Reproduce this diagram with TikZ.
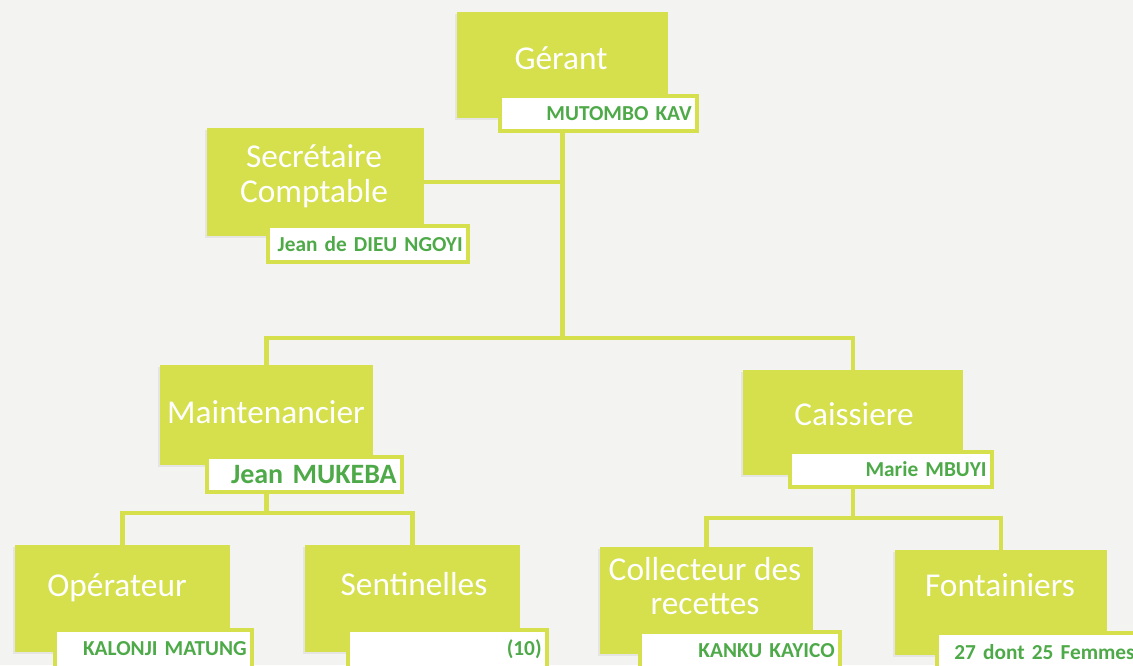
\documentclass[tikz,border=0pt]{standalone}
\usepackage{fontspec}
\setmainfont{Carlito}
\usetikzlibrary{backgrounds,shadows}

\definecolor{leaf}{RGB}{213,224,76}
\definecolor{ink}{RGB}{78,170,72}
\definecolor{paper}{RGB}{243,243,241}

\tikzset{
	role/.style={fill=leaf, inner sep=0pt, drop shadow={shadow xshift=-1.5pt, shadow yshift=-1.5pt, fill=gray, opacity=0.12}},
	roletext/.style={text=white, font=\fontsize{25}{26}\selectfont, align=center, inner sep=0pt},
	staff/.style={draw=leaf, line width=2.6pt, fill=white, inner xsep=4pt, inner ysep=0pt, text width=#1, align=right, text=ink, font=\bfseries\fontsize{16}{18}\selectfont},
	link/.style={draw=leaf, line width=3.5pt}
}

\begin{document}
\begin{tikzpicture}[x=0.75pt,y=-0.75pt]
	% Page
	\useasboundingbox (0,0) rectangle (1133,665);

	% Gerant
	\node[role, minimum width=158pt, minimum height=79.5pt] (ger) at (562.5,65) {};
	\node[roletext] (gerT) at (561,58) {Gérant};
	\node[staff=139.75pt, minimum height=26.25pt] (gerN) at (598.5,113.5) {MUTOMBO KAV};

	% Secretaire
	\node[role, minimum width=162.75pt, minimum height=81pt] (sec) at (315.5,182) {};
	\node[roletext] (secT) at (314,176) {Secrétaire\\Comptable};
	\node[staff=142pt, minimum height=27pt] (secN) at (368,244) {Jean de DIEU NGOYI};

	% Maintenancier
	\node[role, minimum width=159.75pt, minimum height=75pt] (mai) at (266.5,415) {};
	\node[roletext] (maiT) at (266,412) {Maintenancier};
	\node[staff=138.25pt, minimum height=26.25pt, font=\bfseries\fontsize{21}{23}\selectfont] (maiN) at (304.5,474.5) {Jean MUKEBA};

	% Caissiere
	\node[role, minimum width=165pt, minimum height=78.75pt] (cai) at (853,422.5) {};
	\node[roletext] (caiT) at (854,414) {Caissiere};
	\node[staff=143.5pt, minimum height=26.25pt] (caiN) at (891,469.5) {Marie MBUYI};

	% Bottom row
	\node[role, minimum width=161.25pt, minimum height=80.25pt] (ope) at (122.5,598.5) {};
	\node[roletext] (opeT) at (117,588) {Opérateur};
	\node[staff=139.75pt, minimum height=28.5pt] (opeN) at (153.5,649) {KALONJI MATUNG};

	\node[role, minimum width=161.25pt, minimum height=80.25pt] (sen) at (412.5,598.5) {};
	\node[roletext] (senT) at (414,584) {Sentinelles};
	\node[staff=141.25pt, minimum height=28.5pt] (senN) at (447.5,649) {(10)};

	\node[role, minimum width=159.75pt, minimum height=80.25pt] (col) at (706.5,600.5) {};
	\node[roletext] (colT) at (705,586) {Collecteur des\\recettes};
	\node[staff=142pt, minimum height=28.5pt] (colN) at (740,651) {KANKU KAYICO};

	\node[role, minimum width=159pt, minimum height=78.75pt] (fon) at (1001,602.5) {};
	\node[roletext] (fonT) at (1000,585) {Fontainiers};
	\node[staff=144.25pt, minimum height=28.5pt] (fonN) at (1038.5,652) {27 dont 25 Femmes};

	% Junctions
	\coordinate (hub) at (562.5,338);
	\coordinate (lbar) at (266.5,513);
	\coordinate (rbar) at (853,518);

	% Connectors
	\begin{scope}[on background layer]
		\fill[paper] (0,0) rectangle (1133,665);
		\draw[link] (ger.south) -- (hub);
		\draw[link] (sec.east) -- (sec.east -| hub);
		\draw[link] (mai.north) |- (hub) -| (cai.north);
		\draw[link] (mai.south) -- (lbar);
		\draw[link] (ope.north) |- (lbar) -| (sen.north);
		\draw[link] (cai.south) -- (rbar);
		\draw[link] (col.north) |- (rbar) -| (fon.north);
	\end{scope}
\end{tikzpicture}
\end{document}
